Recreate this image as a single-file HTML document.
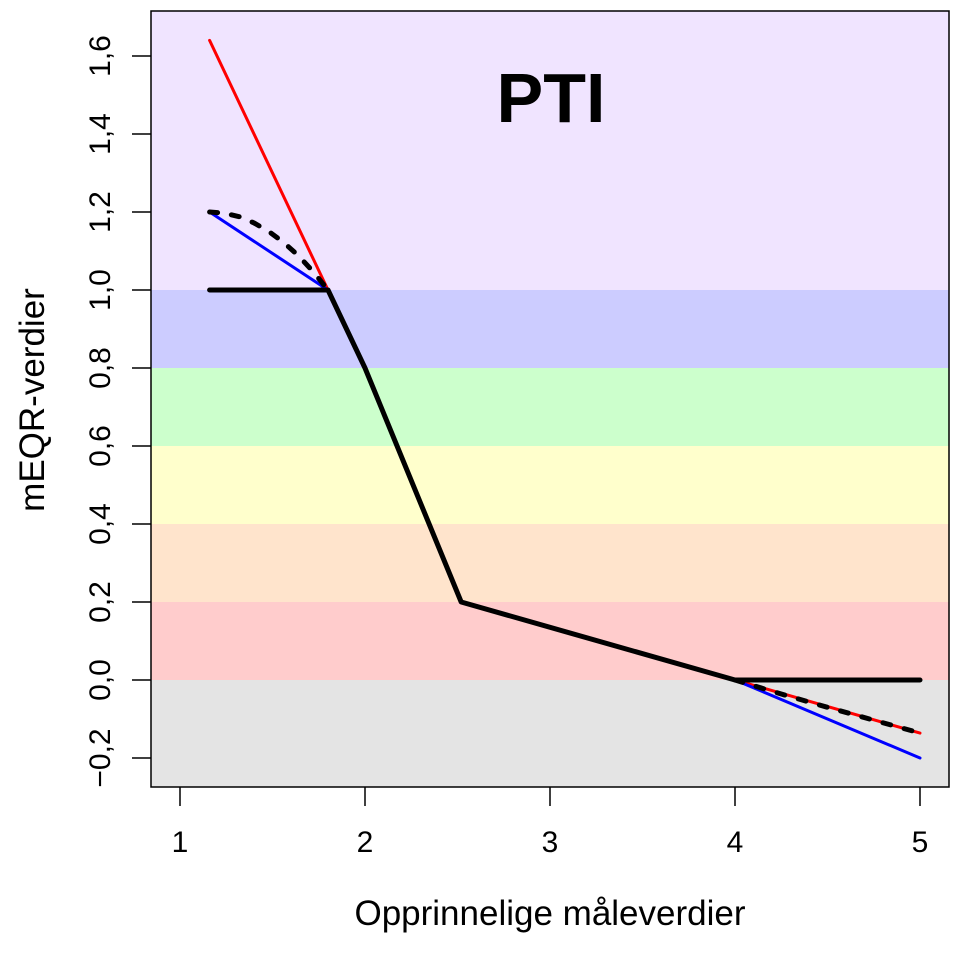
<!DOCTYPE html>
<html><head><meta charset="utf-8"><style>
html,body{margin:0;padding:0;background:#fff;}
svg{display:block;font-family:"Liberation Sans",Arial,sans-serif;}
</style></head><body>
<svg id="chart" width="960" height="960" viewBox="0 0 960 960" xmlns="http://www.w3.org/2000/svg"></svg>
<script>
const xTicks = [1, 2, 3, 4, 5];
const yTicks = [-0.2, 0, 0.2, 0.4, 0.6, 0.8, 1.0, 1.2, 1.4, 1.6];
const bandLimits = [0, 0.2, 0.4, 0.6, 0.8, 1.0];
const bandColors = ["#e4e4e4", "#ffcccc", "#ffe4cc", "#ffffcc", "#ccffcc", "#ccccff", "#f0e4ff"];
const blackX = [1.16, 1.8, 2, 2.52, 4, 5];
const blackY = [1.0, 1.0, 0.8, 0.2, 0, 0];
const redX = [1.16, 1.8, 2, 2.52, 4, 5];
const redY = [1.64, 1.0, 0.8, 0.2, 0, -0.136];
const blueX = [1.16, 1.8, 2, 2.52, 4, 5];
const blueY = [1.2, 1.0, 0.8, 0.2, 0, -0.2];
const dotUpperX = [1.16, 1.24, 1.32, 1.4, 1.48, 1.56, 1.64, 1.72, 1.8];
const dotUpperY = [1.2, 1.197, 1.188, 1.172, 1.15, 1.122, 1.088, 1.047, 1.0];
const dotLowerX = [4, 4.25, 4.5, 4.75, 5];
const dotLowerY = [0, -0.036, -0.07, -0.103, -0.136];

const L = 151, R = 949, T = 11, B = 787;
const sx = v => 180 + (v - 1) * 185;
const sy = v => 680 - v * 390;
const svg = document.getElementById('chart');
const NS = 'http://www.w3.org/2000/svg';
function mk(tag, attrs, parent) {
  const e = document.createElementNS(NS, tag);
  for (const k in attrs) e.setAttribute(k, attrs[k]);
  (parent || svg).appendChild(e);
  return e;
}
for (let i = 0; i < bandColors.length; i++) {
  const top = i < bandLimits.length ? sy(bandLimits[i]) : T;
  const bot = i === 0 ? B : sy(bandLimits[i - 1]);
  const r = mk('rect', {x: L, y: top, width: R - L, height: bot - top, fill: bandColors[i]});
  
  
}
function line(xs, ys, color, w, name, dash) {
  const pts = xs.map((x, i) => sx(x) + ',' + sy(ys[i])).join(' ');
  const a = {points: pts, fill: 'none', stroke: color, 'stroke-width': w, 'stroke-linejoin': 'round', 'stroke-linecap': 'round'};
  if (dash) a['stroke-dasharray'] = dash;
  const p = mk('polyline', a);
  
  
}
line(redX, redY, '#ff0000', 3, 'red-series');
line(blueX, blueY, '#0000ff', 3, 'blue-series');
line(blackX, blackY, '#000000', 5, 'black-series');
line(dotUpperX, dotUpperY, '#000000', 5, 'dotted-upper', '8 14');
line(dotLowerX, dotLowerY, '#000000', 5, 'dotted-lower', '8 14');
const box = mk('rect', {x: L, y: T, width: R - L, height: B - T, fill: 'none', stroke: '#000', 'stroke-width': 1.5});


xTicks.forEach(v => {
  mk('line', {x1: sx(v), x2: sx(v), y1: B, y2: B + 19, stroke: '#000', 'stroke-width': 1.5});
  const t = mk('text', {x: sx(v), y: 852, 'font-size': 30, 'text-anchor': 'middle'});
  t.textContent = v;
  
  
});
yTicks.forEach(v => {
  mk('line', {x1: L - 19, x2: L, y1: sy(v), y2: sy(v), stroke: '#000', 'stroke-width': 1.5});
  const t = mk('text', {x: 0, y: 0, 'font-size': 30, 'text-anchor': 'middle', transform: 'translate(110,' + sy(v) + ') rotate(-90)'});
  t.textContent = v.toFixed(1).replace('.', ',').replace('-', '\u2212');
  
  
});
const xl = mk('text', {x: 550, y: 925, 'font-size': 35, 'text-anchor': 'middle'});
xl.textContent = 'Opprinnelige måleverdier';


const yl = mk('text', {x: 0, y: 0, 'font-size': 35, 'text-anchor': 'middle', transform: 'translate(44,400) rotate(-90)'});
yl.textContent = 'mEQR-verdier';


const ti = mk('text', {x: 551, y: 122, 'font-size': 70, 'font-weight': 'bold', 'text-anchor': 'middle'});
ti.textContent = 'PTI';


</script>
</body></html>
